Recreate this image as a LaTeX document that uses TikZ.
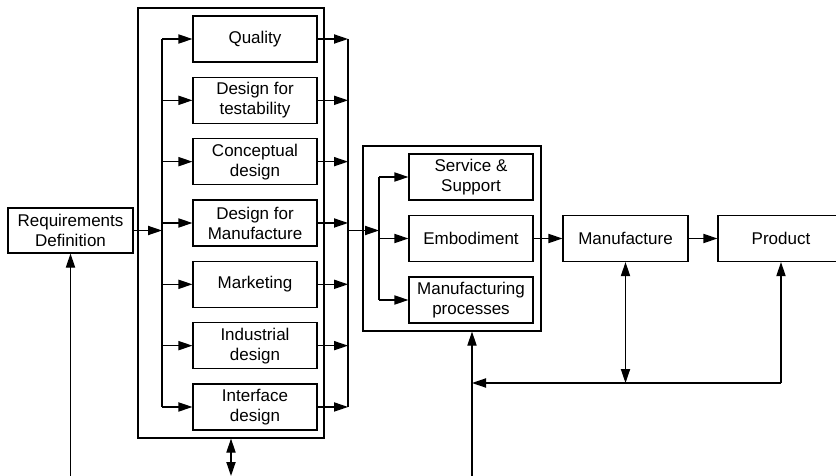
\documentclass[tikz,border=0pt]{standalone}
\usepackage{fontspec}
\setmainfont{Liberation Sans}
\usetikzlibrary{arrows.meta,positioning,calc}

\begin{document}
\begin{tikzpicture}[x=0.5pt,y=-0.5pt,line width=0.6pt,
  >={Triangle[length=7pt,width=4.6pt]},
  box/.style={draw,minimum width=62pt,minimum height=23pt,inner sep=0pt,
    align=center,font=\fontsize{8.5}{10}\selectfont},
  frame/.style={draw,inner sep=0pt}]
\useasboundingbox (0,0) rectangle (836,476);
\node[box,minimum width=62.5pt,minimum height=22.5pt] (req) at (70.5,230.5) {Requirements\\Definition};
\node[frame,minimum width=93pt,minimum height=215pt] (grp) at (231,223) {};
\foreach \t [count=\i] in {Quality,{Design for\\testability},{Conceptual\\design},
    {Design for\\Manufacture},Marketing,{Industrial\\design},{Interface\\design}}
  \node[box] (d\i) at (255,{39+61.33*(\i-1)}) {\t};
\node[frame,minimum width=89pt,minimum height=92.5pt] (grp2) at (452,238.5) {};
\node[box] (ss) at (471,177) {Service \&\\Support};
\node[box] (emb) at (471,238.5) {Embodiment};
\node[box] (mp) at (471,300) {Manufacturing\\processes};
\node[box,minimum width=62.5pt] (man) at (625.5,238.5) {Manufacture};
\node[box,minimum width=63pt] (prod) at (781,238.5) {Product};
\coordinate (busL) at (162,230.5);
\coordinate (busR) at (348,230.5);
\coordinate (bus2) at (379,230.5);
\coordinate (fb) at (472,383);
\coordinate (low) at (0,476);
% teams feeding the concurrent design
\draw[->] (req) -- (busL);
\draw (d1.west -| busL) -- (d7.west -| busL);
\draw (d1.east -| busR) -- (d7.east -| busR);
\foreach \i in {1,...,7} {
  \draw[->] (d\i.west -| busL) -- (d\i.west);
  \draw[->] (d\i.east) -- (d\i.east -| busR);
}
\draw[->] (busR) -- (bus2);
\draw (ss.west -| bus2) -- (mp.west -| bus2);
\foreach \n in {ss,emb,mp}
  \draw[->] (\n.west -| bus2) -- (\n.west);
\draw[->] (emb) -- (man);
\draw[->] (man) -- (prod);
% feedback loops
\draw[<->] (man.south) -- (man.south |- fb);
\draw[->] (fb -| prod.south) -- (prod.south);
\draw[->] (fb -| prod.south) -- (fb);
\draw[->] (fb |- low) -- (fb |- grp2.south);
\draw[->] (req.south |- low) -- (req.south);
\draw[<->] (grp.south) -- (grp.south |- low);
\end{tikzpicture}
\end{document}
